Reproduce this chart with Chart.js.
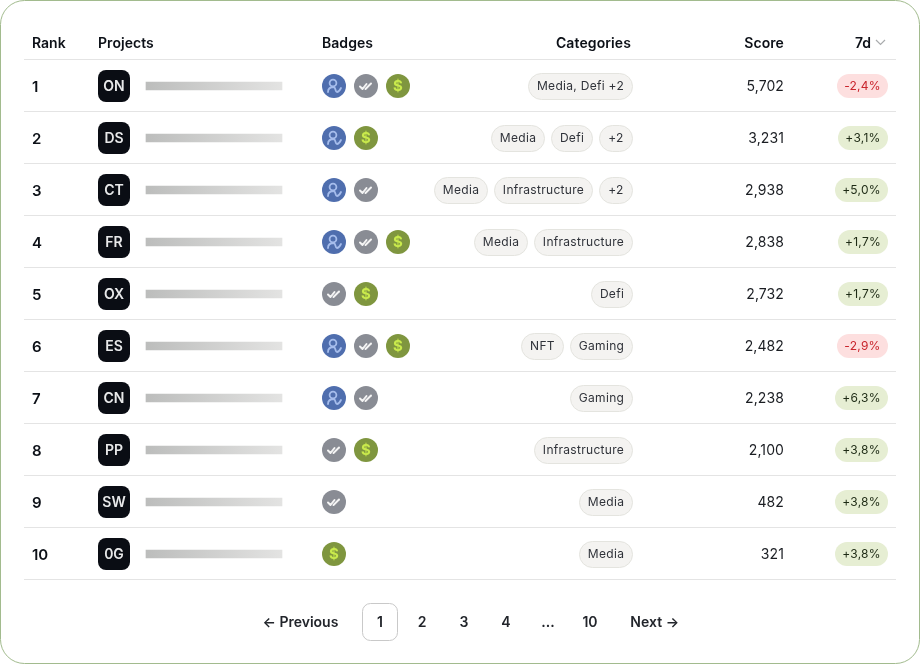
<!DOCTYPE html>
<html><head><meta charset="utf-8">
<script src="https://cdn.jsdelivr.net/npm/chart.js@4"></script>
<style>html,body{margin:0;padding:0;background:#fff}canvas{display:block}</style>
</head><body><canvas id="c" width="920" height="664"></canvas>
<script>
const ranks = ['1','2','3','4','5','6','7','8','9','10'];
const projects = ['ON','DS','CT','FR','OX','ES','CN','PP','SW','0G'];
const badges = [['u','c','d'],['u','d'],['u','c'],['u','c','d'],['c','d'],['u','c','d'],['u','c'],['c','d'],['c'],['d']];
const categories = [['Media, Defi +2'],['Media','Defi','+2'],['Media','Infrastructure','+2'],['Media','Infrastructure'],['Defi'],['NFT','Gaming'],['Gaming'],['Infrastructure'],['Media'],['Media']];
const scores = [5702,3231,2938,2838,2732,2482,2238,2100,482,321];
const changes = [-2.4,3.1,5.0,1.7,1.7,-2.9,6.3,3.8,3.8,3.8];
const headers = ['Rank','Projects','Badges','Categories','Score','7d'];
const pages = ['1','2','3','4','...','10'];
const prevLabel = '← Previous', nextLabel = 'Next →';
const F = 'Inter, sans-serif';

function rr(c,x,y,w,h,r,fill,stroke){c.beginPath();c.roundRect(x,y,w,h,r);if(fill){c.fillStyle=fill;c.fill();}if(stroke){c.strokeStyle=stroke;c.lineWidth=1;c.stroke();}}
function txt(c,s,x,y,font,color,align,sp){c.font=font;c.fillStyle=color;c.textAlign=align||'left';c.textBaseline='middle';c.letterSpacing=(sp||0)+'px';c.fillText(s,x,y);c.letterSpacing='0px';}
function badge(c,kind,cx,cy){
  const col={u:'#4f6eae',c:'#898c94',d:'#7f963f'}[kind];
  c.beginPath();c.arc(cx,cy,12,0,Math.PI*2);c.fillStyle=col;c.fill();
  c.save();c.lineCap='round';c.lineJoin='round';
  if(kind==='u'){c.strokeStyle='#a6bdec';c.lineWidth=1.8;
    c.beginPath();c.arc(cx-1,cy-3,3.4,0,Math.PI*2);c.stroke();
    c.beginPath();c.moveTo(cx-6,cy+6);c.bezierCurveTo(cx-6,cy+2,cx-3,cy+1,cx,cy+1);c.bezierCurveTo(cx+2,cy+2,cx+1,cy+6,cx+3,cy+6);c.bezierCurveTo(cx+5,cy+6,cx+6,cy+4,cx+7,cy+2);c.stroke();
  } else if(kind==='c'){c.strokeStyle='#f4f4f4';c.lineWidth=2;
    c.beginPath();c.moveTo(cx-6,cy+.5);c.lineTo(cx-3.5,cy+3);c.lineTo(cx+.5,cy-2);c.stroke();
    c.beginPath();c.moveTo(cx-.5,cy+3);c.lineTo(cx+5,cy-2.5);c.stroke();
  } else {txt(c,'$',cx,cy+.5,'700 15px '+F,'#c9ea4c','center');}
  c.restore();
}
const tablePlugin={id:'tablePlugin',
  beforeDraw(chart){const c=chart.ctx;c.save();c.fillStyle='#fff';c.fillRect(0,0,920,664);
    rr(c,.5,.5,919,663,24,'#fff','#a2bb8e');c.restore();},
  afterDraw(chart){const c=chart.ctx,y=chart.scales.y;c.save();
    const H='600 14px '+F,hc='#0c1017',hy=43.5;
    txt(c,headers[0],32,hy,H,hc,'left');txt(c,headers[1],98,hy,H,hc,'left',.05);txt(c,headers[2],322,hy,H,hc,'left',.05);
    txt(c,headers[3],631,hy,H,hc,'right',.1);txt(c,headers[4],784,hy,H,hc,'right',.1);txt(c,headers[5],871,hy,H,hc,'right');
    c.strokeStyle='#a9abad';c.lineWidth=1.2;c.beginPath();c.moveTo(876,40);c.lineTo(880.5,44.5);c.lineTo(885,40);c.stroke();
    ranks.forEach((r,i)=>{const cy=Math.round(y.getPixelForValue(i));
      txt(c,r,32,cy+1,'600 15px '+F,'#0c1017','left');
      rr(c,98,cy-16,32,32,8,'#0a0d14');
      txt(c,projects[i],114,cy+1,'600 14px '+F,'#e8e9ea','center');
      badges[i].forEach((b,k)=>badge(c,b,334+k*32,cy));
      let right=633;
      for(let k=categories[i].length-1;k>=0;k--){const s=categories[i][k];
        c.font='400 12px '+F;c.letterSpacing='0.3px';const w=Math.max(34,Math.round(c.measureText(s).width)+18);c.letterSpacing='0px';
        rr(c,right-w+.5,cy-12.5,w-1,26,13,'#f4f3f1','#e4e4df');
        txt(c,s,right-w/2,cy,'400 12px '+F,'#30333a','center',.3);
        right-=w+6;}
      txt(c,scores[i].toLocaleString('en-US'),784,cy+1,'400 14px '+F,'#1a1d22','right',.1);
      const v=changes[i],s=(v<0?'-':'+')+Math.abs(v).toFixed(1).replace('.',',')+'%';
      c.font='400 12px '+F;c.letterSpacing='0.25px';const w=Math.ceil(c.measureText(s).width)+14;c.letterSpacing='0px';
      rr(c,888-w,cy-12,w,24,12,v<0?'#fddfdf':'#e6eed3');
      txt(c,s,888-w/2,cy,'400 12px '+F,v<0?'#c9252d':'#1d2a14','center',.25);
    });
    const py=623,P='600 14px '+F,pc='#22252b';
    txt(c,prevLabel,262.5,py,P,pc,'left');txt(c,nextLabel,679,py,P,pc,'right');
    rr(c,362.5,603.5,35,37,8,null,'#c9c9c9');
    pages.forEach((p,i)=>txt(c,p,380+i*42,py,P,pc,'center'));
    c.restore();}
};
new Chart(document.getElementById('c'),{type:'bar',plugins:[tablePlugin],
  data:{labels:ranks,datasets:[{label:'Projects',data:ranks.map(()=>[146,282]),barThickness:8,borderSkipped:false,
    backgroundColor(ctx){const a=ctx.chart.chartArea,x=ctx.chart.scales.x;if(!a||!x)return '#ccc';
      const g=ctx.chart.ctx.createLinearGradient(x.getPixelForValue(146),0,x.getPixelForValue(282),0);
      g.addColorStop(0,'#bcbdbc');g.addColorStop(1,'#e3e3e2');return g;}}]},
  options:{indexAxis:'y',responsive:false,animation:false,events:[],
    layout:{padding:{left:24,right:24,top:59.99,bottom:84.01}},
    plugins:{legend:{display:false},tooltip:{enabled:false}},
    scales:{x:{type:'linear',display:false,min:24,max:896},
      y:{type:'category',display:true,offset:true,border:{display:false},
        grid:{offset:true,color:'#e4e4e4',lineWidth:1,drawTicks:false},ticks:{display:false},
        afterFit(s){s.width=0;}}}}
});
</script></body></html>
